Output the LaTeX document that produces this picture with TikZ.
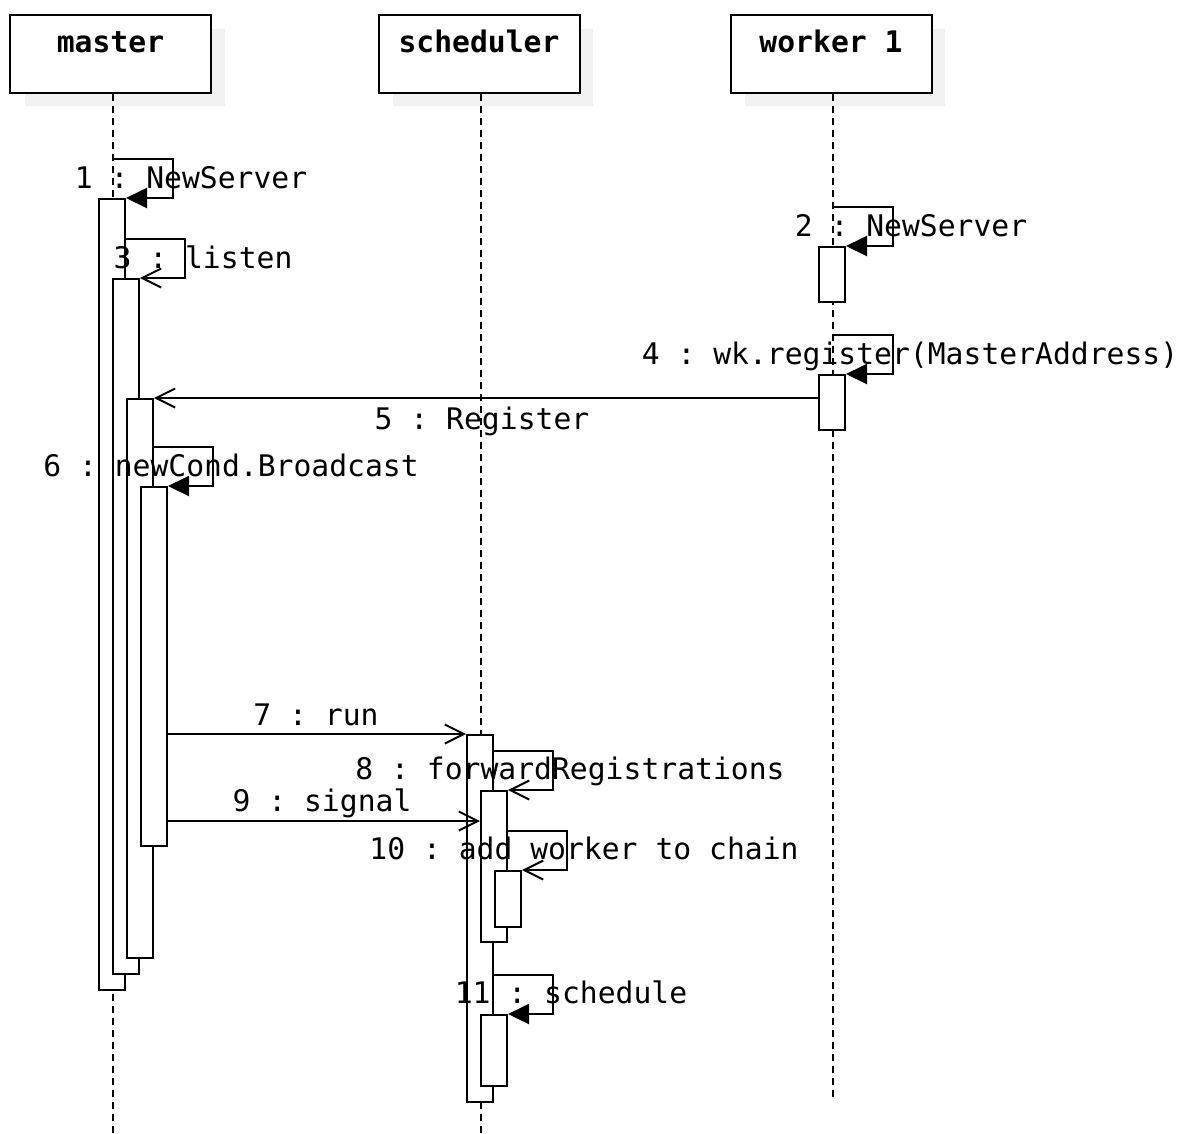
\documentclass[tikz,border=0pt]{standalone}
\usepackage{fontspec}
\setmonofont{DejaVu Sans Mono}
\usetikzlibrary{arrows.meta}

\tikzset{
  head/.style={draw,line width=2pt,fill=white,minimum width=201pt,minimum height=78pt,inner sep=0pt},
  shade/.style={fill=black!5},
  bar/.style={draw,line width=2pt,fill=white,minimum width=26pt,inner sep=0pt},
  life/.style={line width=1.5pt,dash pattern=on 7pt off 5pt},
  call/.style={line width=2pt,-{Triangle[length=21pt,width=20pt]}},
  reply/.style={line width=2pt,-{Straight Barb[length=19pt,width=19pt]}},
  lbl/.style={font=\ttfamily\fontsize{29.7pt}{32pt}\selectfont,inner sep=0pt,anchor=base},
  ttl/.style={font=\ttfamily\bfseries\fontsize{29.7pt}{32pt}\selectfont,inner sep=0pt,anchor=base}
}

\begin{document}
\begin{tikzpicture}[x=1pt,y=-1pt]
    \useasboundingbox (0,0) rectangle (1190,1133);

    % Kepala tiap lifeline dengan bayangan abu-abu
    \fill[shade] (25,29) rectangle (225,106);
    \fill[shade] (393,29) rectangle (593,106);
    \fill[shade] (745,29) rectangle (945,106);
    \node[head] (hm) at (110.5,54) {};
    \node[head] (hs) at (479,54) {};
    \node[head] (hw) at (831,54) {};
    \node[ttl] (tm) at (110.5,52) {master};
    \node[ttl] (ts) at (479,52) {scheduler};
    \node[ttl] (tw) at (831,52) {worker 1};

    % Garis hidup putus-putus
    \coordinate (lm) at (113,1133);
    \coordinate (ls) at (481,1133);
    \coordinate (lw) at (833,1097);
    \draw[life] (hm.south -| lm) -- (lm);
    \draw[life] (hs.south -| ls) -- (ls);
    \draw[life] (hw.south -| lw) -- (lw);

    % Batang aktivasi master
    \node[bar,minimum height=791pt] (a1) at (112,594.5) {};
    \node[bar,minimum height=695pt] (a3) at (126,626.5) {};
    \node[bar,minimum height=559pt] (a5) at (140,678.5) {};
    \node[bar,minimum height=359pt] (a6) at (154,666.5) {};

    % Batang aktivasi worker 1
    \node[bar,minimum height=55pt] (w2) at (832,274.5) {};
    \node[bar,minimum height=55pt] (w4) at (832,402.5) {};

    % Batang aktivasi scheduler
    \node[bar,minimum height=367pt] (s1) at (480,918.5) {};
    \node[bar,minimum height=151pt] (s2) at (494,866.5) {};
    \node[bar,minimum height=56pt] (s3) at (508,899) {};
    \node[bar,minimum height=71pt] (s4) at (494,1050.5) {};

    % Titik awal pesan
    \coordinate (c1) at (113,159);
    \coordinate (c2) at (833,207);
    \coordinate (c3) at (125,239);
    \coordinate (c4) at (833,335);
    \coordinate (c6) at (153,447);
    \coordinate (c8) at (493,751);
    \coordinate (c9) at (167,821);
    \coordinate (c10) at (507,831);
    \coordinate (c11) at (493,975);

    % Pesan ke diri sendiri
    \draw[call] (c1) -- ++(60,0) |- (a1.north east);
    \draw[call] (c2) -- ++(60,0) |- (w2.north east);
    \draw[reply] (c3) -- ++(60,0) |- (a3.north east);
    \draw[call] (c4) -- ++(60,0) |- (w4.north east);
    \draw[call] (c6) -- ++(60,0) |- (a6.north east);
    \draw[reply] (c8) -- ++(60,0) |- (s2.north east);
    \draw[reply] (c10) -- ++(60,0) |- (s3.north east);
    \draw[call] (c11) -- ++(60,0) |- (s4.north east);

    % Pesan antar lifeline
    \draw[reply] (w4.west |- a5.north east) -- (a5.north east);
    \draw[reply] (a6.east |- s1.north west) -- (s1.north west);
    \draw[reply] (c9) -- (s2.west |- c9);

    % Label pesan
    \node[lbl] (m1) at (191,188) {1 : NewServer};
    \node[lbl] (m2) at (911,236) {2 : NewServer};
    \node[lbl] (m3) at (203,268) {3 : listen};
    \node[lbl] (m4) at (910,364) {4 : wk.register(MasterAddress)};
    \node[lbl] (m5) at (482,429) {5 : Register};
    \node[lbl] (m6) at (231,476) {6 : newCond.Broadcast};
    \node[lbl] (m7) at (316,725) {7 : run};
    \node[lbl] (m8) at (570,779) {8 : forwardRegistrations};
    \node[lbl] (m9) at (322,811) {9 : signal};
    \node[lbl] (m10) at (584,859) {10 : add worker to chain};
    \node[lbl] (m11) at (571,1003) {11 : schedule};

\end{tikzpicture}
\end{document}
